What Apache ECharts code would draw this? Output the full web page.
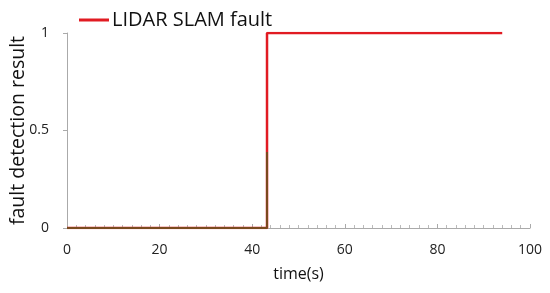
<!DOCTYPE html>
<html><head><meta charset="utf-8">
<script src="https://cdn.jsdelivr.net/npm/echarts@6/dist/echarts.min.js"></script>
<style>html,body{margin:0;padding:0;background:#fff}#c{width:550px;height:293px}</style>
</head><body><div id="c"></div>
<script>
const faultX = [0, 43.2, 43.2, 94];
const faultY = [0, 0, 1, 1];
const underX = [0, 43.2, 43.2];
const underY = [0, 0, 0.39];
const xTicks = [0, 20, 40, 60, 80, 100];
const yTicks = [0, 0.5, 1];

const chart = echarts.init(document.getElementById('c'));
const font = 'Open Sans';
chart.setOption({
  animation: false,
  grid: {left: 67, right: 20, top: 33, bottom: 65, containLabel: false, outerBoundsMode: 'none'},
  legend: {
    left: 74, top: 5, itemWidth: 30, itemHeight: 3, itemGap: 4,
    data: [{name: 'LIDAR SLAM fault', icon: 'rect'}],
    textStyle: {fontFamily: font, fontSize: 20, color: '#111', padding: [0,0,0,-2]}
  },
  xAxis: {
    type: 'value', min: 0, max: 100, interval: 20,
    name: 'time(s)', nameLocation: 'middle', nameGap: 38, nameMoveOverlap: false,
    nameTextStyle: {fontFamily: font, fontSize: 16, color: '#111'},
    axisLine: {lineStyle: {color: '#aaa', width: 1}},
    axisTick: {show: true, length: 4, inside: true, lineStyle: {color: '#aaa'}},
    minorTick: {show: true, splitNumber: 10, length: 3, lineStyle: {color: '#bbb'}},
    axisLabel: {fontFamily: font, fontSize: 14, color: '#222', margin: 15,
      formatter: v => xTicks.includes(v) ? String(v) : ''},
    splitLine: {show: false}
  },
  yAxis: {
    type: 'value', min: 0, max: 1, interval: 0.5,
    name: 'fault detection result', nameLocation: 'middle', nameGap: 39, nameRotate: 90,
    nameMoveOverlap: false,
    nameTextStyle: {fontFamily: font, fontSize: 19.5, color: '#111'},
    axisLine: {show: true, lineStyle: {color: '#aaa', width: 1}},
    axisTick: {show: true, length: 4, lineStyle: {color: '#aaa'}},
    axisLabel: {fontFamily: font, fontSize: 14, color: '#222', margin: 18,
      formatter: v => yTicks.includes(v) ? String(v) : ''},
    splitLine: {show: false}
  },
  series: [
    {name: 'LIDAR SLAM fault', type: 'line', showSymbol: false, symbol: 'none',
     data: faultX.map((x, i) => [x, faultY[i]]),
     lineStyle: {color: '#e11b22', width: 2.5}, itemStyle: {color: '#e11b22'}},
    {name: 'under', type: 'line', showSymbol: false, symbol: 'none',
     data: underX.map((x, i) => [x, underY[i]]),
     lineStyle: {color: '#7a4a1e', width: 2}, itemStyle: {color: '#7a4a1e'}}
  ]
});
</script></body></html>
